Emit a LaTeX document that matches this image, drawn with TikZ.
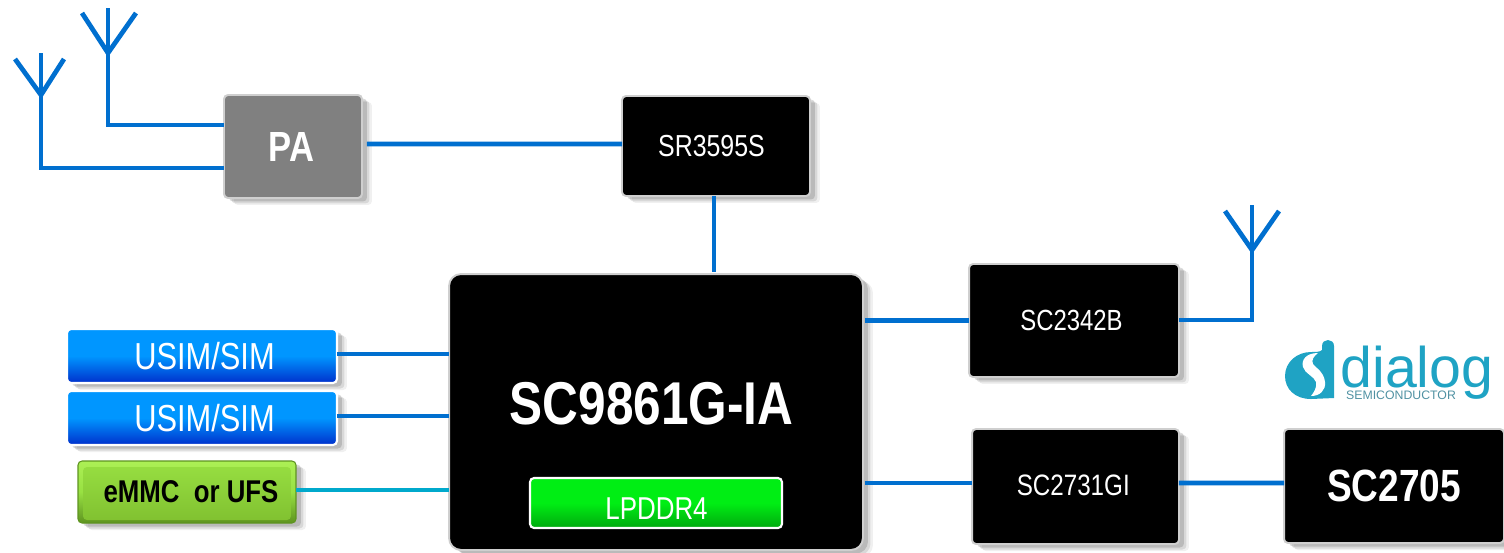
\documentclass[tikz,border=0pt]{standalone}
\usepackage{fontspec}
\setmainfont{Liberation Sans}
\newfontfamily\narrowfont[FakeStretch=0.82]{Liberation Sans}
\usetikzlibrary{shadows}
\definecolor{wire-blue}{HTML}{006FCF}
\definecolor{wire-cyan}{HTML}{00A9CC}
\definecolor{usim-top}{HTML}{0096FF}
\definecolor{usim-bot}{HTML}{0030CC}
\definecolor{ddr-top}{HTML}{00EE14}
\definecolor{ddr-bot}{HTML}{00A90E}
\definecolor{emmc-top}{HTML}{98E042}
\definecolor{emmc-bot}{HTML}{80C030}
\definecolor{emmc-lit}{HTML}{ACF055}
\definecolor{emmc-dark}{HTML}{5E9420}
\definecolor{dialog-teal}{HTML}{1FA3C4}
\definecolor{edge-grey}{HTML}{CFCFCF}

\begin{document}
\begin{tikzpicture}[x=0.02cm, y=-0.02cm,
        every node/.style={font=\narrowfont, inner sep=0pt, outer sep=0pt},
        wire/.style={line width=2.7pt, wire-blue},
        softshadow/.style={
            drop shadow={shadow xshift=0.2cm, shadow yshift=-0.14cm, opacity=0.06, fill=black},
            drop shadow={shadow xshift=0.15cm, shadow yshift=-0.11cm, opacity=0.1, fill=black},
            drop shadow={shadow xshift=0.1cm, shadow yshift=-0.07cm, opacity=0.14, fill=black}},
        chip/.style={draw=edge-grey, line width=1.1pt, fill=black, text=white, rounded corners=0.08cm, softshadow},
        simcard/.style={draw=white, line width=1.2pt, top color=usim-top, bottom color=usim-bot, middle color=usim-top, text=white,
            rounded corners=0.08cm, softshadow, minimum width=5.4cm, minimum height=1.08cm, font=\narrowfont\fontsize{21.4}{24}\selectfont}]
      \useasboundingbox (0,0) rectangle (1504,552);
      \node[chip, fill=black!50, minimum width=2.76cm, minimum height=2.06cm,
            font=\narrowfont\bfseries\fontsize{24}{26}\selectfont] (PA) at (293,146.5) {PA\kern0.06cm};
      \node[chip, minimum width=3.76cm, minimum height=2.0cm, font=\narrowfont\fontsize{17.3}{20}\selectfont] (SR) at (716,146) {SR3595S\kern0.18cm};
      \node[chip, rounded corners=0.24cm, minimum width=8.28cm, minimum height=5.52cm] (SoC) at (656,412) {};
      \node[text=white, font=\narrowfont\bfseries\fontsize{34.4}{38}\selectfont] (SoCname) at (651.5,404) {SC9861G-IA};
      \node[draw=white, line width=1.2pt, top color=ddr-top, bottom color=ddr-bot, middle color=ddr-top, text=white, rounded corners=0.08cm,
            minimum width=5.04cm, minimum height=1.0cm, text height=0.64cm, text depth=0pt,
            font=\narrowfont\fontsize{18}{20}\selectfont] (DDR) at (656,503) {\kern0.02cm LPDDR4};
      \node[chip, minimum width=4.2cm, minimum height=2.26cm, font=\narrowfont\fontsize{16.6}{20}\selectfont] (BT) at (1074,320.5) {SC2342B\kern0.1cm};
      \node[chip, minimum width=4.14cm, minimum height=2.3cm, text height=0.34cm, text depth=0pt,
            font=\narrowfont\fontsize{16.8}{20}\selectfont] (PMIC) at (1075.5,486.5) {SC2731GI\kern0.09cm};
      \node[chip, minimum width=4.4cm, minimum height=2.28cm, font=\narrowfont\bfseries\fontsize{25.7}{28}\selectfont] (DLG) at (1394,486) {SC2705};
      \node[simcard] (SIMa) at (202,356) {\kern0.1cm USIM/SIM};
      \node[simcard] (SIMb) at (202,418) {\kern0.1cm USIM/SIM};
      \node[draw=emmc-dark, line width=0.6pt, top color=emmc-lit, bottom color=emmc-dark, middle color=emmc-top, rounded corners=0.08cm,
            minimum width=4.36cm, minimum height=1.24cm, text=black, softshadow,
            path picture={\shade[top color=emmc-top, bottom color=emmc-bot]
                ([shift={(5,6)}]path picture bounding box.north west) rectangle ([shift={(-5,-3)}]path picture bounding box.south east);},
            font=\narrowfont\bfseries\fontsize{17.9}{20}\selectfont] (eMMC) at (187,492) {\kern0.16cm eMMC\ \ or UFS};

      \coordinate (antA) at (41,53);
      \coordinate (antB) at (108,8);
      \coordinate (antC) at (1252,205);
      \draw[wire] (antA) |- ([yshift=-0.43cm]PA.west);
      \draw[wire] (antB) |- ([yshift=0.43cm]PA.west);
      \draw[wire] (antC) |- ([yshift=0.01cm]BT.east);
      \draw[wire] ([shift={(-26,6)}]antA) -- ([shift={(0,42)}]antA) -- ([shift={(23,6)}]antA);
      \draw[wire] ([shift={(-26,5)}]antB) -- ([shift={(0,45)}]antB) -- ([shift={(28,5)}]antB);
      \draw[wire] ([shift={(-27,6)}]antC) -- ([shift={(0,45)}]antC) -- ([shift={(27,6)}]antC);

      \draw[wire] ([shift={(0.1cm,0.05cm)}]PA.east) -- ([yshift=0.04cm]SR.west);
      \draw[wire] ([xshift=-0.04cm]SR.south) -- ([xshift=-0.04cm, yshift=0.04cm]SR.south |- SoC.north);
      \draw[wire] ([yshift=0.04cm]SIMa.east) -- ([yshift=0.04cm]SIMa.east -| SoC.west);
      \draw[wire] ([yshift=0.04cm]SIMb.east) -- ([yshift=0.04cm]SIMb.east -| SoC.west);
      \draw[wire, wire-cyan] ([yshift=0.04cm]eMMC.east) -- ([yshift=0.04cm]eMMC.east -| SoC.west);
      \draw[wire] ([xshift=0.04cm]BT.west -| SoC.east) -- (BT.west);
      \draw[wire] ([shift={(0.04cm,0.07cm)}]PMIC.west -| SoC.east) -- ([yshift=0.07cm]PMIC.west);
      \draw[wire] ([yshift=0.07cm]PMIC.east) -- ([yshift=0.06cm]DLG.west);

      \fill[dialog-teal] (1322,346) .. controls (1322,338) and (1334,338) .. (1334,346) -- (1334,398) -- (1311,399)
            .. controls (1295,399) and (1285,389) .. (1285,376) .. controls (1285,362) and (1297,352) .. (1311,352)
            .. controls (1316,352) and (1320,352) .. (1322,350) -- cycle;
      \fill[white] (1318,353) .. controls (1306,353) and (1301,360) .. (1303,367) .. controls (1305,374) and (1314,376) .. (1316,382)
            .. controls (1317,388) and (1314,392) .. (1311,396) .. controls (1320,396) and (1326,390) .. (1325,382)
            .. controls (1324,372) and (1316,368) .. (1313,364) .. controls (1311,360) and (1314,356) .. (1318,353) -- cycle;
      \node[text=dialog-teal, anchor=base, text depth=0pt, font=\fontsize{32.6}{36}\selectfont] (dialog) at (1417,387) {dialog};
      \node[text=dialog-teal!50!gray, font=\fontsize{7}{8}\selectfont] (semi) at (1401,395.5) {SEMICONDUCTOR};
    \end{tikzpicture}
\end{document}
